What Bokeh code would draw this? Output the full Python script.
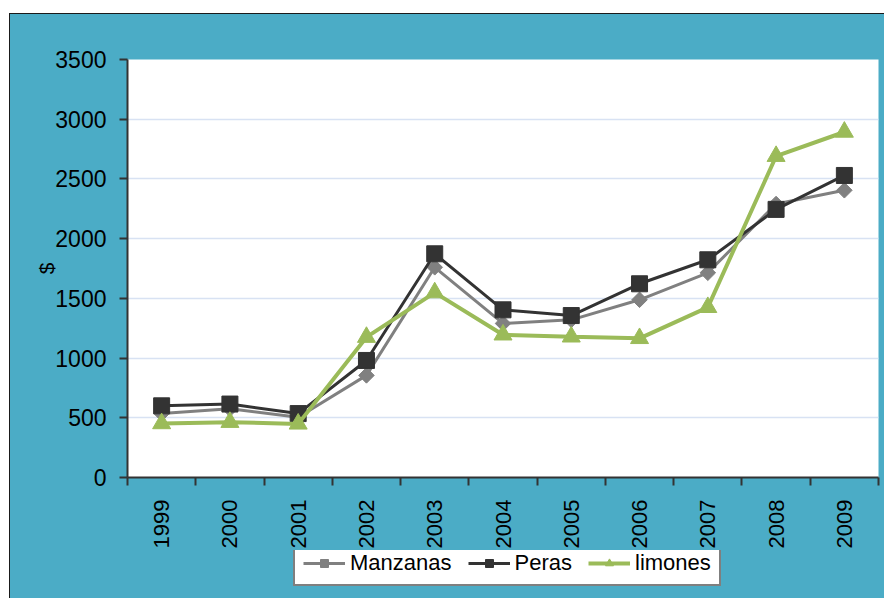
import math
import numpy as np
from bokeh.plotting import figure
from bokeh.models import Range1d, FixedTicker, Legend, LegendItem, Spacer
from bokeh.layouts import column, row
from bokeh.embed import file_html
from bokeh.resources import INLINE

years = ["1999", "2000", "2001", "2002", "2003", "2004", "2005", "2006", "2007", "2008", "2009"]
manzanas = [535, 575, 505, 855, 1760, 1290, 1320, 1488, 1714, 2290, 2405]
peras = [600, 615, 535, 980, 1873, 1404, 1356, 1622, 1823, 2245, 2529]
limones = [452, 463, 449, 1175, 1548, 1195, 1178, 1165, 1425, 2690, 2893]
y_ticks = [0, 500, 1000, 1500, 2000, 2500, 3000, 3500]

series = [
    ("Manzanas", manzanas, "#808080", 3, "square", math.pi / 4, 11),
    ("Peras", peras, "#333333", 3, "square", 0, 16),
    ("limones", limones, "#9BBB59", 4, "triangle", 0, 18),
]

TEAL = "#4BACC6"
FONT = "Liberation Sans"
EDGE = "1px solid #1a1a1a"

x = np.arange(len(years)) + 0.5

p = figure(width=875, height=537, output_backend="svg", toolbar_location=None,
           x_range=Range1d(0, len(years)), y_range=Range1d(y_ticks[0], y_ticks[-1]),
           min_border_left=117, min_border_right=7, min_border_top=45, min_border_bottom=74)
p.border_fill_color = TEAL
p.background_fill_color = "white"
p.outline_line_color = None
p.styles = {"border-left": EDGE, "border-top": EDGE, "background-color": TEAL}

# x axis
p.xaxis.ticker = FixedTicker(ticks=[float(v) for v in x],
                             minor_ticks=[float(i) for i in range(len(years) + 1)])
p.xaxis.major_label_overrides = {float(v): lab for v, lab in zip(x, years)}
p.xaxis.major_tick_out = 0
p.xaxis.major_tick_in = 0
p.xaxis.minor_tick_out = 8
p.xaxis.minor_tick_in = 0
p.xaxis.minor_tick_line_color = "#333333"
p.xaxis.minor_tick_line_width = 2
p.xaxis.axis_line_color = "#333333"
p.xaxis.axis_line_width = 2
p.xaxis.major_label_orientation = math.pi / 2
p.xaxis.major_label_standoff = 14
p.xaxis.major_label_text_font = FONT
p.xaxis.major_label_text_font_size = "22px"
p.xaxis.major_label_text_color = "black"

# y axis
p.yaxis.ticker = FixedTicker(ticks=y_ticks, minor_ticks=[])
p.yaxis.major_tick_out = 8
p.yaxis.major_tick_in = 0
p.yaxis.major_tick_line_color = "#333333"
p.yaxis.major_tick_line_width = 2
p.yaxis.axis_line_color = "#333333"
p.yaxis.axis_line_width = 2
p.yaxis.major_label_standoff = 13
p.yaxis.major_label_text_font = FONT
p.yaxis.major_label_text_font_size = "23px"
p.yaxis.major_label_text_color = "black"
p.yaxis.axis_label = "$"
p.yaxis.axis_label_text_font = FONT
p.yaxis.axis_label_text_font_size = "21px"
p.yaxis.axis_label_text_font_style = "normal"
p.yaxis.axis_label_text_color = "black"
p.yaxis.axis_label_standoff = -6

p.xgrid.visible = False
p.ygrid.grid_line_color = "#D8E2F3"
p.ygrid.grid_line_width = 1.5

for name, vals, color, lw, marker, ang, size in series:
    p.line(x, vals, line_color=color, line_width=lw)
    p.scatter(x, vals, marker=marker, angle=ang, size=size,
              fill_color=color, line_color=color)

# legend strip (separate canvas so the legend can sit on the teal border)
q = figure(width=875, height=48, output_backend="svg", toolbar_location=None,
           x_range=Range1d(-20, -19), y_range=Range1d(-20, -19),
           x_axis_type=None, y_axis_type=None,
           min_border_left=0, min_border_right=0, min_border_top=0, min_border_bottom=0)
q.border_fill_color = TEAL
q.background_fill_color = TEAL
q.outline_line_color = TEAL
q.outline_line_width = 3
q.grid.visible = False
q.styles = {"border-left": EDGE, "background-color": TEAL}

items = []
for name, vals, color, lw, marker, ang, size in series:
    lr = q.line(x, vals, line_color=color, line_width=lw)
    sr = q.scatter(x, vals, marker=marker, angle=ang, size=size,
                   fill_color=color, line_color=color)
    items.append(LegendItem(label=name, renderers=[lr, sr]))

legend = Legend(items=items, location=(166, 12), orientation="horizontal")
legend.border_line_color = "black"
legend.border_line_width = 2
legend.background_fill_color = "white"
legend.background_fill_alpha = 1
legend.padding = 8
legend.spacing = 16
legend.margin = 0
legend.glyph_width = 42
legend.glyph_height = 20
legend.label_standoff = 5
legend.label_text_font = FONT
legend.label_text_font_size = "22px"
legend.label_text_color = "black"
q.add_layout(legend)

inner = column(p, q)
inner.styles = {"background-color": TEAL}
layout = column(Spacer(height=13), row(Spacer(width=9), inner))

open("out.html", "w").write(file_html(layout, INLINE))
